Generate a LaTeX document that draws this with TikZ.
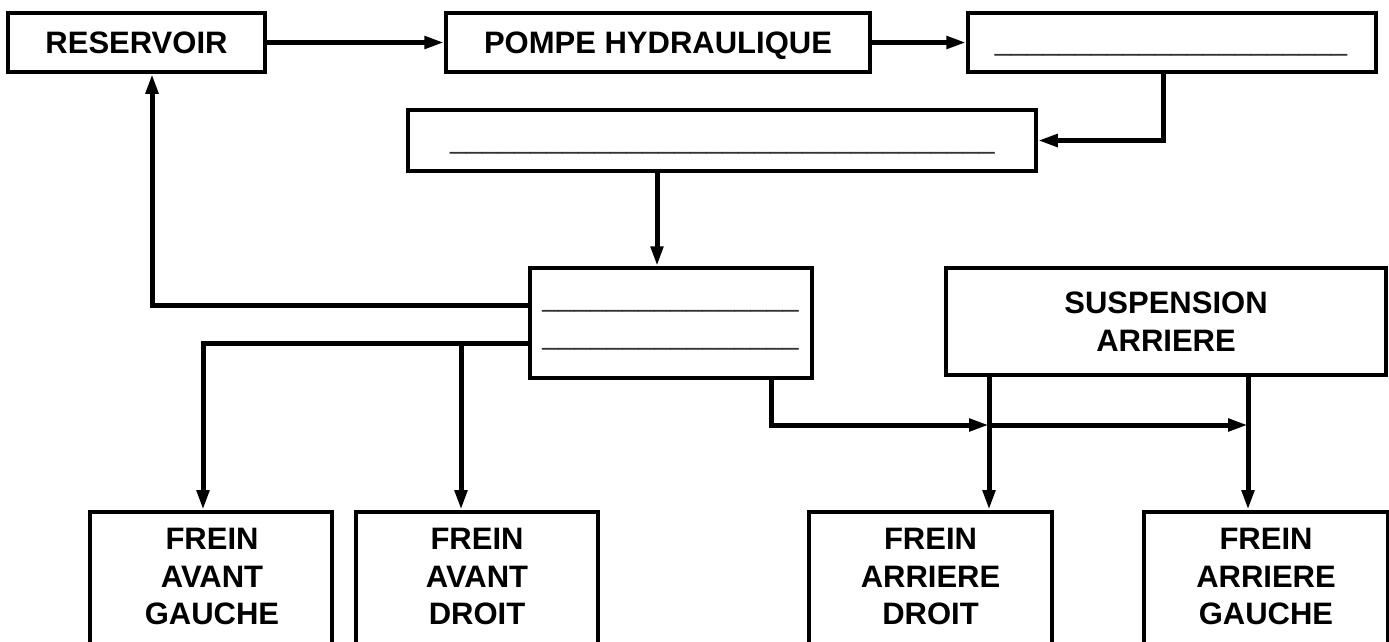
\documentclass[tikz,border=0pt]{standalone}
\usepackage{fontspec}
\setmainfont{Liberation Sans}
\usetikzlibrary{arrows.meta}
\begin{document}
\begin{tikzpicture}[x=1pt,y=-1pt,
  box/.style={draw, line width=3.5pt, rectangle, inner sep=0pt, align=center,
    font=\fontsize{31}{37.5}\selectfont\bfseries},
  lbl/.style={inner sep=0pt, align=center, font=\fontsize{31}{37.5}\selectfont\bfseries},
  blank/.style={inner sep=0pt, anchor=base, font=\fontsize{28.8}{30}\selectfont, text=black!80},
  conn/.style={line width=5pt, -{Triangle[length=20pt,width=12pt]}}
]
\useasboundingbox (0,0) rectangle (1389,641);

% boxes
\node[box, minimum width=257pt, minimum height=59pt, text depth=0pt] (res) at (136.5,42.5) {RESERVOIR};
\node[box, minimum width=424pt, minimum height=59pt, text depth=0pt] (pompe) at (658,42.5) {POMPE HYDRAULIQUE};
\node[box, minimum width=408pt, minimum height=59pt] (b3) at (1172,42.5) {};
\node[box, minimum width=628pt, minimum height=61pt] (b4) at (722,140.5) {};
\node[box, minimum width=282pt, minimum height=110pt] (b5) at (671,323) {};
\node[box, minimum width=440pt, minimum height=107pt] (susp) at (1166,321.5) {SUSPENSION\\ARRIERE};

\node[box, anchor=north, minimum width=242pt, minimum height=170pt] (fag) at (211,510) {};
\node[box, anchor=north, minimum width=242pt, minimum height=170pt] (fad) at (477,510) {};
\node[box, anchor=north, minimum width=243pt, minimum height=170pt] (frd) at (930.5,510) {};
\node[box, anchor=north, minimum width=244pt, minimum height=170pt] (frg) at (1266,510) {};

\node[lbl] (fagt) at (212,576.5) {FREIN\\AVANT\\GAUCHE};
\node[lbl] (fadt) at (477,576.5) {FREIN\\AVANT\\DROIT};
\node[lbl] (frdt) at (930.5,576.5) {FREIN\\ARRIERE\\DROIT};
\node[lbl] (frgt) at (1266,576.5) {FREIN\\ARRIERE\\GAUCHE};

% blanks
\node[blank] (u3) at (1171,50) {\_\_\_\_\_\_\_\_\_\_\_\_\_\_\_\_\_\_\_\_\_\_};
\node[blank] (u4) at (722.5,148) {\_\_\_\_\_\_\_\_\_\_\_\_\_\_\_\_\_\_\_\_\_\_\_\_\_\_\_\_\_\_\_\_\_\_};
\node[blank] (u5a) at (670.5,306) {\_\_\_\_\_\_\_\_\_\_\_\_\_\_\_\_};
\node[blank] (u5b) at (670.5,344) {\_\_\_\_\_\_\_\_\_\_\_\_\_\_\_\_};

% helper coordinates
\coordinate (x3) at (1163,0);
\coordinate (x4) at (657,0);
\coordinate (xr) at (152,0);
\coordinate (yr) at (0,305);
\coordinate (yb) at (0,343);
\coordinate (xa) at (203,0);
\coordinate (xb) at (461,0);
\coordinate (xc) at (771,0);
\coordinate (yh) at (0,425);
\coordinate (xd) at (989,0);
\coordinate (xe) at (1248,0);

% connectors
\draw[conn] (res.east) -- (pompe.west);
\draw[conn] (pompe.east) -- (b3.west);
\draw[conn] (b3.south -| x3) |- (b4.east);
\draw[conn] (b4.south -| x4) -- (b5.north -| x4);
\draw[conn] (b5.west |- yr) -| (res.south -| xr);
\draw[conn] (b5.west |- yb) -| (fag.north -| xa);
\draw[conn] (xb |- yb) -- (fad.north -| xb);
\draw[conn] (b5.south -| xc) |- (xd |- yh);
\draw[conn] (xd |- yh) -- (xe |- yh);
\draw[conn] (susp.south -| xd) -- (frd.north -| xd);
\draw[conn] (susp.south -| xe) -- (frg.north -| xe);
\end{tikzpicture}
\end{document}
